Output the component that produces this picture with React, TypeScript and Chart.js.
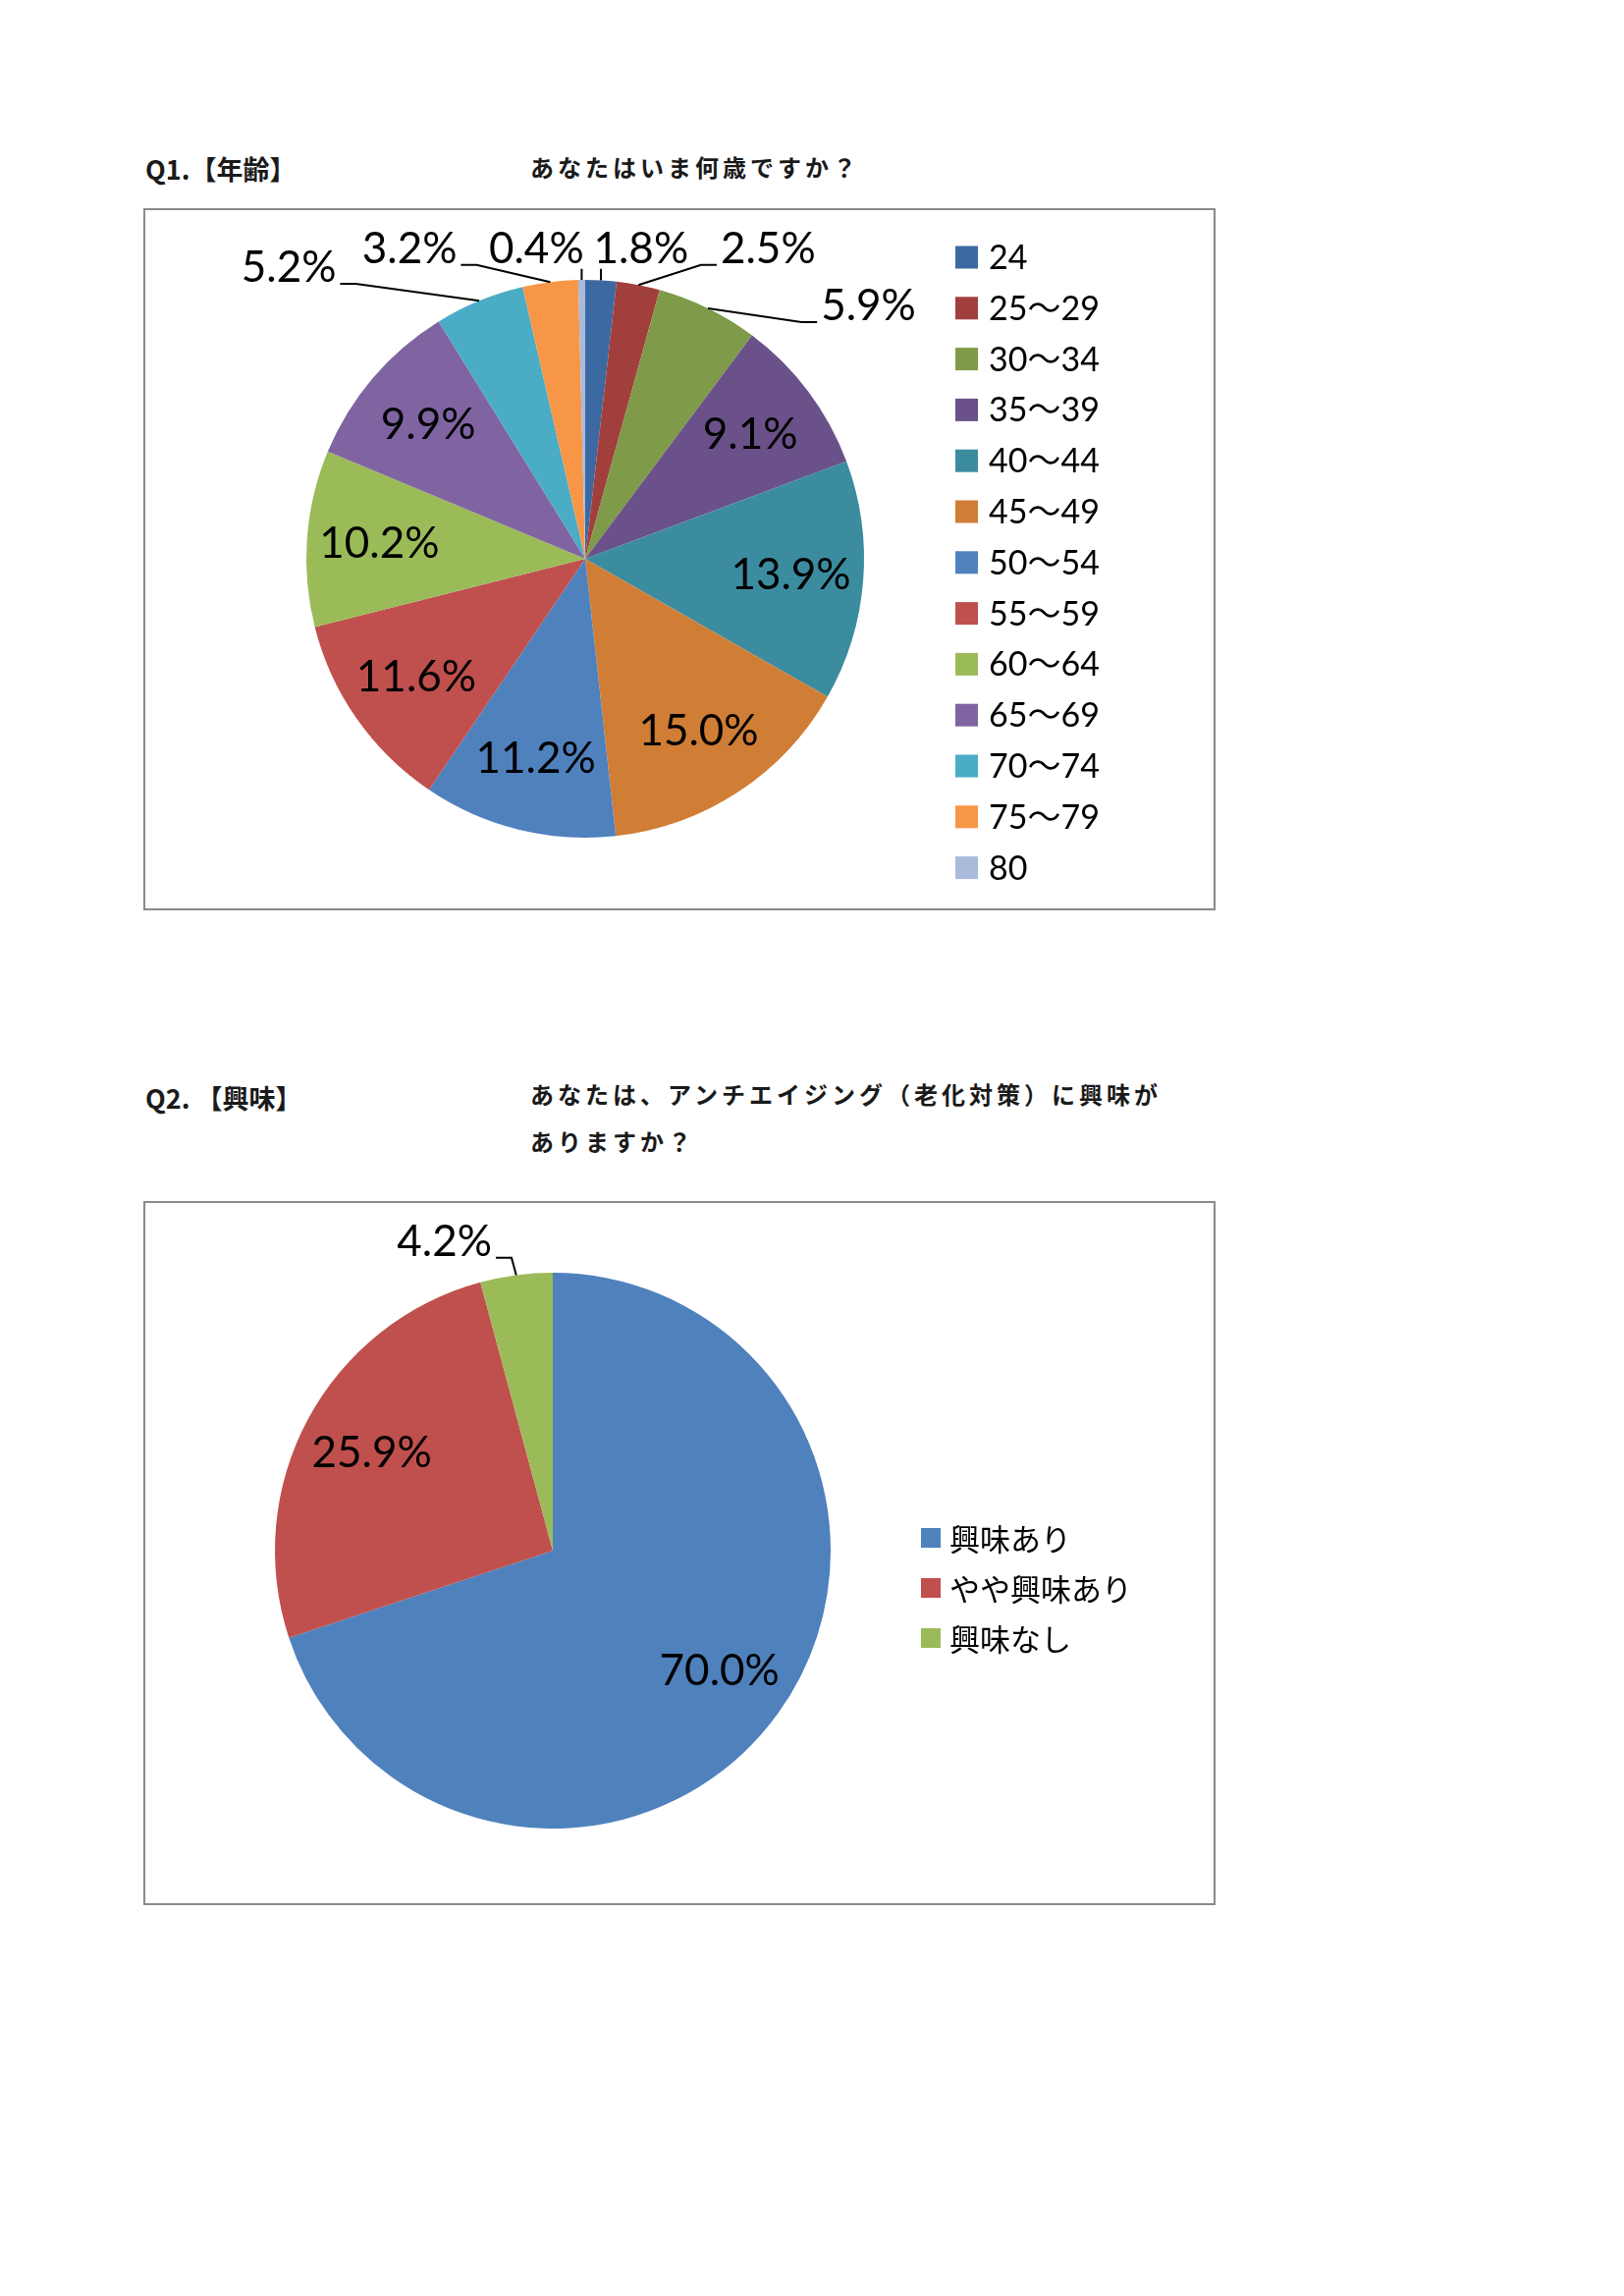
import React, { useEffect, useRef } from 'react';
import { Chart, registerables } from 'chart.js';

Chart.register(...registerables);

// Q1 年齢
const ageLabels = ['24', '25～29', '30～34', '35～39', '40～44', '45～49', '50～54', '55～59', '60～64', '65～69', '70～74', '75～79', '80'];
const ageValues = [1.8, 2.5, 5.9, 9.1, 13.9, 15.0, 11.2, 11.6, 10.2, 9.9, 5.2, 3.2, 0.4];
const ageColors = ['#3D69A3', '#A13F3D', '#7F9A48', '#6A5189', '#3C8CA0', '#D07D36', '#4F81BD', '#C0504D', '#9BBB59', '#8064A2', '#4BACC6', '#F79646', '#A9BADB'];

// Q2 興味
const interestLabels = ['興味あり', 'やや興味あり', '興味なし'];
const interestValues = [70.0, 25.9, 4.2];
const interestColors = ['#4F81BD', '#C0504D', '#9BBB59'];

// where the small slices put their labels (relative to centre, in radii)
const ageOutside: Record<number, [number, number]> = {
  0: [0.2, -1.11],
  1: [0.656, -1.11],
  2: [1.016, -0.905],
  10: [-1.063, -1.042],
  11: [-0.63, -1.11],
  12: [-0.175, -1.11],
};
const interestOutside: Record<number, [number, number]> = {
  2: [-0.39, -1.11],
};

const LABEL_FONT = '44px Lato, "Noto Sans CJK JP", sans-serif';

// percentage labels, with leader lines for the slices that sit outside
const pieLabels = {
  id: 'pieLabels',
  afterDatasetsDraw(chart: any, _args: any, opts: any) {
    const ctx = chart.ctx as CanvasRenderingContext2D;
    const meta = chart.getDatasetMeta(0);
    const values = chart.data.datasets[0].data as number[];
    ctx.save();
    ctx.font = LABEL_FONT;
    ctx.fillStyle = '#000';
    ctx.strokeStyle = '#000';
    ctx.lineWidth = 2;
    ctx.textAlign = 'center';
    ctx.textBaseline = 'middle';
    meta.data.forEach((arc: any, i: number) => {
      const { x, y, startAngle, endAngle, outerRadius } = arc.getProps(
        ['x', 'y', 'startAngle', 'endAngle', 'outerRadius'],
        true
      );
      const mid = (startAngle + endAngle) / 2;
      const text = values[i].toFixed(1) + '%';
      const out = opts.outside[i];
      if (!out) {
        const k = 0.74;
        ctx.fillText(text, x + Math.cos(mid) * outerRadius * k, y + Math.sin(mid) * outerRadius * k);
        return;
      }
      const lx = x + out[0] * outerRadius;
      const ly = y + out[1] * outerRadius;
      ctx.fillText(text, lx, ly);
      const w = ctx.measureText(text).width;
      const left = lx - w / 2;
      const right = lx + w / 2;
      const bottom = ly + 16;
      const ex = x + Math.cos(mid) * outerRadius;
      const ey = y + Math.sin(mid) * outerRadius;
      ctx.beginPath();
      ctx.moveTo(ex, ey);
      if (ex >= left && ex <= right) {
        ctx.lineTo(ex, bottom + 4);
      } else if (ex > right) {
        ctx.lineTo(right + 20, bottom);
        ctx.lineTo(right + 4, bottom);
      } else {
        ctx.lineTo(left - 20, bottom);
        ctx.lineTo(left - 4, bottom);
      }
      ctx.stroke();
    });
    ctx.restore();
  },
};

// legend drawn on the canvas so every row shares one baseline
const boxLegend = {
  id: 'boxLegend',
  afterDraw(chart: any, _args: any, opts: any) {
    const ctx = chart.ctx as CanvasRenderingContext2D;
    const labels = chart.data.labels as string[];
    const colors = chart.data.datasets[0].backgroundColor as string[];
    ctx.save();
    ctx.font = opts.font;
    ctx.textAlign = 'left';
    ctx.textBaseline = 'middle';
    labels.forEach((lab, i) => {
      const cy = opts.firstY + i * opts.step;
      ctx.fillStyle = colors[i];
      ctx.fillRect(opts.squareLeft, cy - opts.square / 2, opts.square, opts.square);
      ctx.fillStyle = '#000';
      ctx.fillText(lab, opts.textLeft, cy + 1);
    });
    ctx.restore();
  },
};

interface LegendStyle {
  squareLeft: number;
  square: number;
  textLeft: number;
  firstY: number;
  step: number;
  font: string;
}

interface PieBoxProps {
  left: number;
  top: number;
  width: number;
  height: number;
  labels: string[];
  values: number[];
  colors: string[];
  padding: { left: number; right: number; top: number; bottom: number };
  outside: Record<number, [number, number]>;
  legend: LegendStyle;
}

const PieBox: React.FC<PieBoxProps> = ({ left, top, width, height, labels, values, colors, padding, outside, legend }) => {
  const canvasRef = useRef<HTMLCanvasElement>(null);

  useEffect(() => {
    if (!canvasRef.current) return;
    const chart = new Chart(canvasRef.current, {
      type: 'pie',
      data: {
        labels,
        datasets: [
          {
            data: values,
            backgroundColor: colors,
            borderWidth: 0,
          },
        ],
      },
      options: {
        responsive: false,
        animation: false,
        devicePixelRatio: 1,
        layout: { padding },
        plugins: {
          legend: { display: false },
          tooltip: { enabled: false },
          // @ts-ignore
          pieLabels: { outside },
          // @ts-ignore
          boxLegend: legend,
        },
      },
      plugins: [pieLabels, boxLegend],
    });
    return () => {
      chart.destroy();
    };
  }, []);

  return (
    <div style={{ position: 'absolute', left, top, width, height }}>
      <canvas ref={canvasRef} width={width} height={height} style={{ position: 'absolute', left: 0, top: 0 }} />
      <div
        style={{
          position: 'absolute',
          left: 0,
          top: 0,
          width,
          height,
          boxSizing: 'border-box',
          border: '2px solid #8a8a8a',
        }}
      />
    </div>
  );
};

const Text: React.FC<{ left: number; cy: number; children: React.ReactNode; size: number; spacing?: number }> = ({
  left,
  cy,
  children,
  size,
  spacing,
}) => (
  <div
    style={{
      position: 'absolute',
      left,
      top: cy - 20,
      height: 40,
      lineHeight: '40px',
      font: `bold ${size}px "Noto Sans CJK JP", sans-serif`,
      color: '#1a1a1a',
      whiteSpace: 'nowrap',
      letterSpacing: spacing ?? 0,
    }}
  >
    {children}
  </div>
);

export default function App() {
  return (
    <div style={{ position: 'absolute', left: 0, top: 0, width: 1654, height: 2338, background: '#fff' }}>
      <Text left={148} cy={172} size={27}>Q1.【年齢】</Text>
      <Text left={540} cy={172} size={24} spacing={4}>あなたはいま何歳ですか？</Text>
      <PieBox
        left={146}
        top={212}
        width={1092}
        height={715}
        labels={ageLabels}
        values={ageValues}
        colors={ageColors}
        padding={{ left: 166, right: 358, top: 73, bottom: 74 }}
        outside={ageOutside}
        legend={{ squareLeft: 827, square: 23, textLeft: 861, firstY: 50, step: 51.8, font: '34px Lato, "Noto Sans CJK JP", sans-serif' }}
      />

      <Text left={148} cy={1118} size={27}>Q2. 【興味】</Text>
      <Text left={540} cy={1116} size={24} spacing={4}>あなたは、アンチエイジング（老化対策）に興味が</Text>
      <Text left={540} cy={1164} size={24} spacing={4}>ありますか？</Text>
      <PieBox
        left={146}
        top={1223}
        width={1092}
        height={717}
        labels={interestLabels}
        values={interestValues}
        colors={interestColors}
        padding={{ left: 134, right: 392, top: 73, bottom: 78 }}
        outside={interestOutside}
        legend={{ squareLeft: 792, square: 20, textLeft: 821, firstY: 343, step: 51, font: '31px "Noto Sans CJK JP", sans-serif' }}
      />
    </div>
  );
}
